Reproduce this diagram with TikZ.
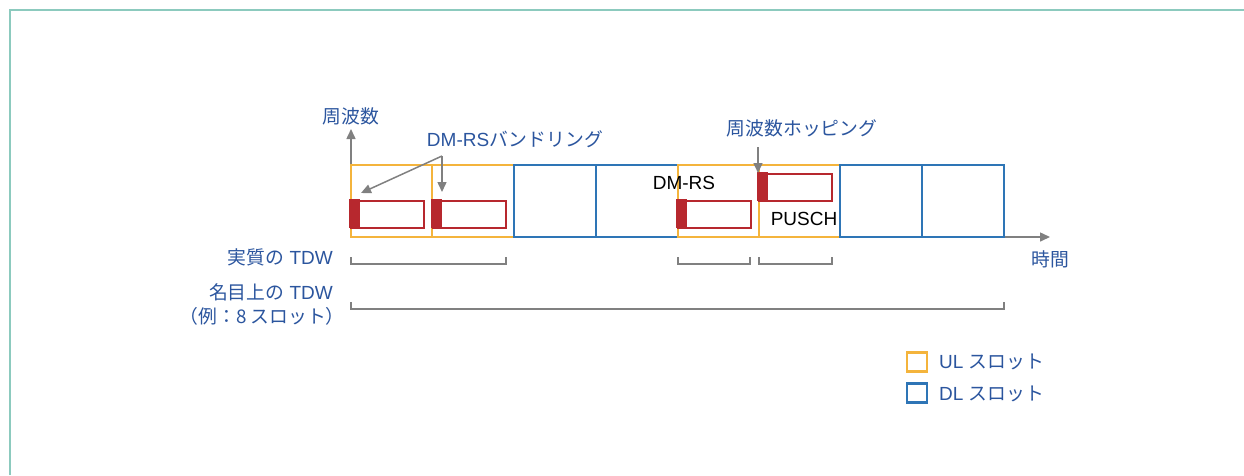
\documentclass[tikz,border=0pt]{standalone}
\usepackage{fontspec}
\setmainfont{Liberation Sans}
\newfontfamily\jp{Noto Sans CJK JP}[Scale=0.99]
\usetikzlibrary{arrows.meta}
\definecolor{ulc}{HTML}{F4B43C}
\definecolor{dlc}{HTML}{2E75B6}
\definecolor{redc}{HTML}{B7282E}
\definecolor{txtc}{HTML}{2B559E}
\definecolor{grayc}{HTML}{808080}
\definecolor{framec}{HTML}{8CCABE}
\tikzset{
  slotbox/.style={draw, line width=2.4pt, minimum width=81.5pt, minimum height=72pt, inner sep=0pt},
  ulslot/.style={slotbox, draw=ulc},
  dlslot/.style={slotbox, draw=dlc},
  pusch/.style={draw=redc, line width=2pt, fill=white, minimum width=73pt, minimum height=27pt, inner sep=0pt},
  dmrs/.style={fill=redc, minimum width=11pt, minimum height=29pt, inner sep=0pt, anchor=north west},
  lbl/.style={text=txtc, font=\fontsize{19}{22}\selectfont, inner sep=0pt},
  blk/.style={text=black, font=\fontsize{19}{22}\selectfont, inner sep=0pt},
  garrow/.style={draw=grayc, line width=1.5pt, -{Triangle[length=10pt,width=9pt]}},
  brk/.style={draw=grayc, line width=2pt},
  legbox/.style={draw, line width=2.4pt, minimum width=20pt, minimum height=19pt, inner sep=0pt}
}
\begin{document}
\begin{tikzpicture}[x=1pt,y=-1pt]
\useasboundingbox (0,0) rectangle (1244,475);
% frame
\draw[framec, line width=2pt] (10,475) -- (10,10) -- (1244,10);
% axes
\coordinate (o) at (351,237);
\coordinate (ytip) at (351,129);
\coordinate (xtip) at (1050,237);
\draw[garrow] (o) -- (ytip);
\draw[garrow] (o) -- (xtip);
% slots
\node[ulslot] (s1) at (391.5,201) {};
\node[ulslot] (s2) at (473,201) {};
\node[dlslot] (s3) at (555,201) {};
\node[dlslot] (s4) at (637,201) {};
\node[ulslot] (s5) at (718.5,201) {};
\node[ulslot] (s6) at (799.5,201) {};
\node[dlslot] (s7) at (881,201) {};
\node[dlslot] (s8) at (963,201) {};
% PUSCH boxes
\node[pusch] (p1) at (387,214.5) {};
\node[pusch] (p2) at (469,214.5) {};
\node[pusch] (p5) at (714,214.5) {};
\node[pusch] (p6) at (795.5,187.5) {};
\node[dmrs] (d1) at ([shift={(-1,-1)}]p1.north west) {};
\node[dmrs] (d2) at ([shift={(-1,-1)}]p2.north west) {};
\node[dmrs] (d5) at ([shift={(-1,-1)}]p5.north west) {};
\node[dmrs] (d6) at ([shift={(-1,-1)}]p6.north west) {};
% labels
\node[lbl] (freq) at (351,116) {\jp 周波数};
\node[lbl] (bund) at (515,139) {DM-RS{\jp バンドリング}};
\node[lbl] (hop) at (802,128) {\jp 周波数ホッピング};
\node[blk] (dmrslbl) at (684,183) {DM-RS};
\node[blk] (puschlbl) at (804,219) {PUSCH};
\node[lbl] (time) at (1050,259) {\jp 時間};
% arrows
\coordinate (bsrc) at (442,156);
\coordinate (bt1) at (361,193);
\coordinate (bt2) at (442,192);
\draw[garrow] (bsrc) -- (bt1);
\draw[garrow] (bsrc) -- (bt2);
\coordinate (hsrc) at (758,147);
\draw[garrow] (hsrc) -- (p6.north west);
% brackets
\draw[brk] (351,257) -- (351,264) -- (506,264) -- (506,257);
\draw[brk] (678,257) -- (678,264) -- (750,264) -- (750,257);
\draw[brk] (759,257) -- (759,264) -- (832,264) -- (832,257);
\draw[brk] (351,302) -- (351,309) -- (1004,309) -- (1004,302);
\node[lbl, anchor=east] (real) at (333,257) {{\jp 実質の} TDW};
\node[lbl, anchor=east] (nom) at (333,292) {{\jp 名目上の} TDW};
\node[lbl, anchor=east] (ex) at (345,316) {\jp （例：8 スロット）};
% legend
\node[legbox, draw=ulc] (lu) at (917,362) {};
\node[legbox, draw=dlc] (ld) at (917,393) {};
\node[lbl, anchor=west] (lut) at (939,362) {UL {\jp スロット}};
\node[lbl, anchor=west] (ldt) at (939,394) {DL {\jp スロット}};
\end{tikzpicture}
\end{document}
